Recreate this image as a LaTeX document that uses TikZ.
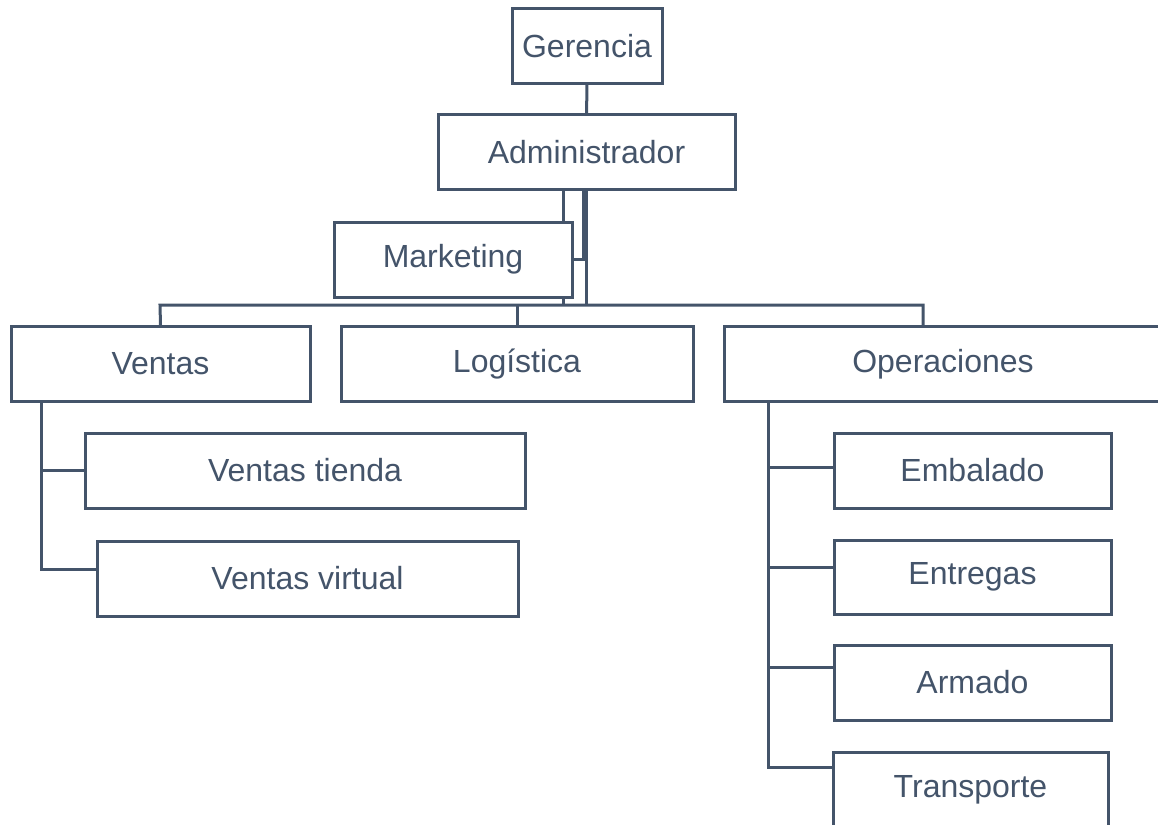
\documentclass[tikz,border=0pt]{standalone}
\usepackage{fontspec}
\setmainfont{Liberation Sans}
\usetikzlibrary{positioning,calc}
\definecolor{slate}{HTML}{44546A}

\begin{document}
\begin{tikzpicture}[x=1pt,y=-1pt,line width=3pt,draw=slate,
  every node/.style={draw=slate,fill=white,rectangle,inner sep=0pt,text=slate,font=\fontsize{32}{38}\selectfont},
  box/.style={minimum height=75pt}]
\useasboundingbox (0,0) rectangle (1158,824);
\coordinate (b1) at (160,305);
\coordinate (b3) at (923,305);

\node[box,minimum width=150pt] (ger) at (587,46) {Gerencia};
\node[box,minimum width=297pt] (adm) at (586.5,152) {Administrador};
\node[box,minimum width=238pt] (mkt) at (453,259.5) {Marketing};
\node[box,minimum width=299pt] (ven) at (160.5,364) {Ventas};
\node[box,minimum width=352pt] (log) at (517,364) {Log\'{\i}stica};
\node[box,minimum width=438pt] (ope) at (943,364) {Operaciones};
\node[box,minimum width=440pt] (vt) at (305,470.5) {Ventas tienda};
\node[box,minimum width=421pt] (vv) at (307.5,578.5) {Ventas virtual};
\node[box,minimum width=277pt] (emb) at (972.5,470.5) {Embalado};
\node[box,minimum width=277pt,minimum height=74pt] (ent) at (972.5,577) {Entregas};
\node[box,minimum width=277pt] (arm) at (972.5,682.5) {Armado};
\node[box,minimum width=275pt] (tra) at (970.5,789.5) {Transporte};

\draw (ger) -- (adm);
\draw (adm.south) -- (adm.south |- b3);
\draw ([xshift=-3.5pt]adm.south) |- (mkt.east);
\draw ([xshift=-23.5pt]adm.south) -- ([xshift=-23.5pt]adm.south |- mkt.north);
\draw ([xshift=110pt]mkt.south) -- ([xshift=110pt]mkt.south |- b3);
\draw (ven.north) -- (b1) -- (b3) -- (b3 |- ope.north);
\draw (log.north) -- (log.north |- b3);
\draw ([xshift=-119.5pt]ven.south) |- (vt.west);
\draw ([xshift=-119.5pt]ven.south) |- ([yshift=9pt]vv.west);
\draw ([xshift=-175pt]ope.south) |- ([yshift=3.5pt]emb.west);
\draw ([xshift=-175pt]ope.south) |- ([yshift=10pt]ent.west);
\draw ([xshift=-175pt]ope.south) |- ([yshift=15.5pt]arm.west);
\draw ([xshift=-175pt]ope.south) |- ([yshift=22.5pt]tra.west);
\end{tikzpicture}
\end{document}
